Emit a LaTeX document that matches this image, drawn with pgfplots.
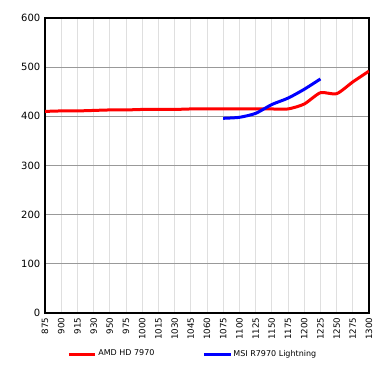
\documentclass[border=0pt]{standalone}
\usepackage{pgfplots}
\pgfplotsset{compat=1.18}
\usepackage{fontspec}
\setmainfont{DejaVu Sans}
\begin{document}
\begin{tikzpicture}
\begin{axis}[
  scale only axis,
  width=243pt, height=221.25pt,
  anchor=south west, at={(0,0)},
  xmin=0, xmax=20, ymin=0, ymax=600,
  xtick={0,...,20},
  xticklabels={875,900,915,930,950,975,1000,1015,1030,1045,1060,1075,1100,1125,1150,1175,1200,1225,1250,1275,1300},
  x tick label style={rotate=90, anchor=east, font=\fontsize{6.5}{7}\selectfont},
  ytick={0,100,...,600},
  y tick label style={font=\fontsize{7.5}{8}\selectfont},
  /pgf/number format/assume math mode=true,
  major tick length=0pt,
  xmajorgrids, ymajorgrids,
  x grid style={gray!25, line width=0.6pt},
  y grid style={gray!80, line width=0.6pt},
  axis line style={black, line width=0.8pt},
  legend style={at={(0.455,-0.139)}, anchor=center, draw=none, legend columns=2,
    font=\fontsize{6}{7}\selectfont, nodes={inner xsep=1pt},
    /tikz/every even column/.append style={column sep=35pt}},
  legend image code/.code={\draw[#1, line width=2.25pt] (0pt,0pt) -- (20pt,0pt);},
]
\addplot[red, line width=2.25pt, smooth, tension=0.4] coordinates {
 (0,410) (1,411) (2,411) (3,412) (4,413) (5,413) (6,414) (7,414) (8,414) (9,415) (10,415)
 (11,415) (12,415) (13,415) (14,415) (15,415) (16,425) (17,448) (18,446) (19,470) (20,492)};
\addlegendentry{AMD HD 7970}
\addplot[blue, line width=2.25pt, smooth, tension=0.4] coordinates {
 (11,396) (12,398) (13,406) (14,424) (15,437) (16,455) (17,476)};
\addlegendentry{MSI R7970 Lightning}
\end{axis}
\pgfresetboundingbox
\path[use as bounding box] (-33.75pt,-40.5pt) rectangle (252pt,234.75pt);
\end{tikzpicture}
\end{document}
